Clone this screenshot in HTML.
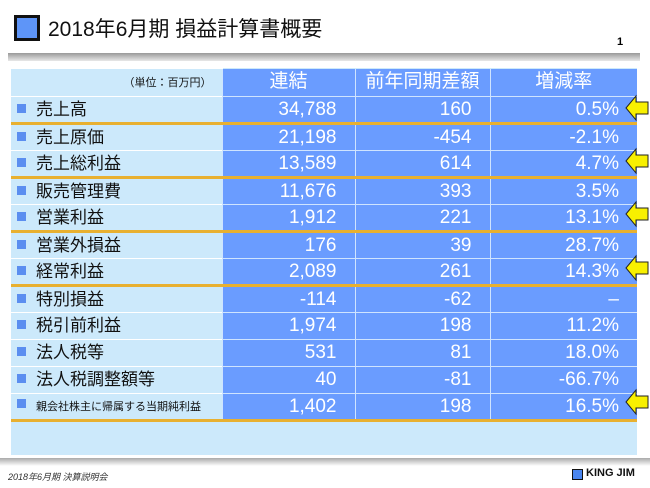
<!DOCTYPE html>
<html><head><meta charset="utf-8"><style>
body{margin:0;width:650px;height:488px;background:#fff;position:relative;overflow:hidden;font-family:"Liberation Sans","Noto Sans CJK JP",sans-serif}
.a{position:absolute}
.t td{padding:0;height:27px;line-height:24px;box-sizing:border-box;color:#fff;font-size:19px;text-align:right;padding-right:18px;background:#6a9cff;border-left:1px solid #cfe4ff;border-top:1px solid #cfe4ff}
.t td.l{background:#cce9fb;color:#111;text-align:left;padding-left:6px;font-size:17px;border-left:none;border-top:1px solid #fff}
.t .sq{display:inline-block;width:9px;height:9px;background:#5b8ef0;margin-right:10px;vertical-align:2px}
.t tr.o td{border-bottom:3px solid #e8b030;height:27px}
</style></head><body>
<div class="a" style="left:14px;top:15px;width:20px;height:20px;background:#5e95f8;border:3px solid #111"></div>
<div class="a" style="left:48px;top:13px;font-size:21px;color:#111">2018年6月期 損益計算書概要</div>
<div class="a" style="left:617px;top:36px;font-size:11px;font-weight:bold">1</div>
<div class="a" style="left:8px;top:53px;width:632px;height:8px;background:linear-gradient(#999,#e8e8e8)"></div>
<div class="a" style="left:11px;top:68px;width:626px;height:387px;background:#cce9fb"></div>
<table class="t a" style="left:11px;top:68px;width:626px;border-collapse:collapse;table-layout:fixed">
<colgroup><col style="width:211px"><col style="width:133px"><col style="width:135px"><col style="width:147px"></colgroup>
<tr><td class="l" style="text-align:right;font-size:11px;padding-right:10px;height:28px">（単位：百万円）</td><td style="text-align:center;padding:0;border-top:none">連結</td><td style="text-align:center;padding:0;border-top:none">前年同期差額</td><td style="text-align:center;padding:0;border-top:none">増減率</td></tr>
<tr class="o"><td class="l"><span class="sq"></span>売上高</td><td>34,788</td><td>160</td><td>0.5%</td></tr>
<tr><td class="l"><span class="sq"></span>売上原価</td><td>21,198</td><td>-454</td><td>-2.1%</td></tr>
<tr class="o"><td class="l"><span class="sq"></span>売上総利益</td><td>13,589</td><td>614</td><td>4.7%</td></tr>
<tr><td class="l"><span class="sq"></span>販売管理費</td><td>11,676</td><td>393</td><td>3.5%</td></tr>
<tr class="o"><td class="l"><span class="sq"></span>営業利益</td><td>1,912</td><td>221</td><td>13.1%</td></tr>
<tr><td class="l"><span class="sq"></span>営業外損益</td><td>176</td><td>39</td><td>28.7%</td></tr>
<tr class="o"><td class="l"><span class="sq"></span>経常利益</td><td>2,089</td><td>261</td><td>14.3%</td></tr>
<tr><td class="l"><span class="sq"></span>特別損益</td><td>-114</td><td>-62</td><td>–</td></tr>
<tr><td class="l"><span class="sq"></span>税引前利益</td><td>1,974</td><td>198</td><td>11.2%</td></tr>
<tr><td class="l"><span class="sq"></span>法人税等</td><td>531</td><td>81</td><td>18.0%</td></tr>
<tr><td class="l"><span class="sq"></span>法人税調整額等</td><td>40</td><td>-81</td><td>-66.7%</td></tr>
<tr class="o"><td class="l" style="font-size:11px"><span class="sq"></span>親会社株主に帰属する当期純利益</td><td>1,402</td><td>198</td><td>16.5%</td></tr>
</table>
<svg class="a" style="left:0;top:0" width="650" height="488">
<defs><g id="ar"><polygon points="0,0 10,-12 10,-6 22,-6 22,6 10,6 10,12" fill="#f8f000" stroke="#222" stroke-width="1"/></g></defs>
<use href="#ar" x="626" y="108"/><use href="#ar" x="626" y="161"/><use href="#ar" x="626" y="214"/><use href="#ar" x="626" y="268"/><use href="#ar" x="626" y="402"/>
</svg>
<div class="a" style="left:0;top:458px;width:650px;height:8px;background:linear-gradient(#aaa,#fff)"></div>
<div class="a" style="left:8px;top:470px;font-size:9px;font-style:italic;color:#333">2018年6月期 決算説明会</div>
<div class="a" style="left:572px;top:469px;width:9px;height:9px;background:#4a86f0;border:1.5px solid #111"></div>
<div class="a" style="left:586px;top:467px;font-size:11px;font-weight:bold;color:#111">KING JIM</div>
</body></html>
